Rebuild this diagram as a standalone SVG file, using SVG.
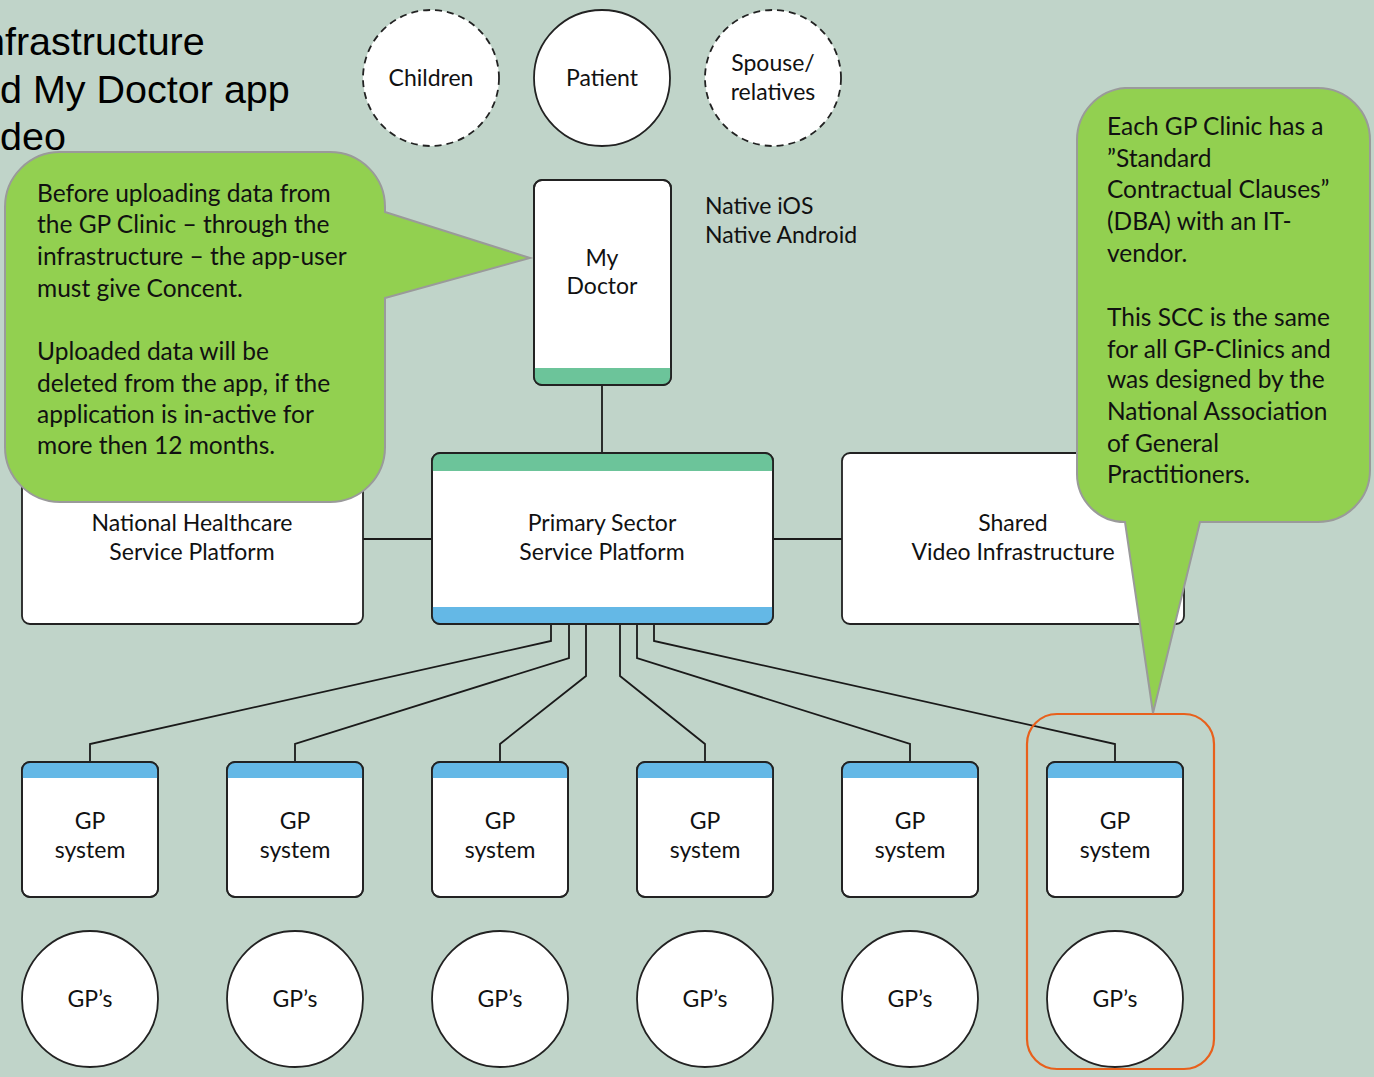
<svg xmlns="http://www.w3.org/2000/svg" width="1374" height="1077" viewBox="0 0 1374 1077">
<defs>
<style>
.bg{fill:#c0d4c9}
.title{font-family:"Liberation Sans",Arial,sans-serif;font-size:39.5px;fill:#000}
.lbl{font-family:Lato,"Open Sans",sans-serif;font-size:23px;fill:#111;text-anchor:middle}
.note{font-family:Lato,"Open Sans",sans-serif;font-size:23px;fill:#111}
.co{font-family:Lato,"Open Sans",sans-serif;font-size:24.5px;fill:#111}
.box{fill:#fff;stroke:#222;stroke-width:1.8}
.circ{fill:#fff;stroke:#222;stroke-width:1.8}
.dash{stroke-dasharray:7 5}
.green{fill:#6cc49a}
.blue{fill:#64b8e6}
.wire{fill:none;stroke:#1a1a1a;stroke-width:1.8}
.callout{fill:#92d050;stroke:#9a9a9a;stroke-width:2}
</style>
<clipPath id="cMy"><rect x="534" y="180" width="137" height="205" rx="8"/></clipPath>
<clipPath id="cPr"><rect x="432" y="453" width="341" height="171" rx="8"/></clipPath>
</defs>
<rect class="bg" x="0" y="0" width="1374" height="1077"/>

<g id="title">
<text class="title" x="-17" y="55">nfrastructure</text>
<text class="title" x="0" y="103">d My Doctor app</text>
<text class="title" x="0" y="150">deo</text>
</g>

<g id="connectors">
<line class="wire" x1="602" y1="385" x2="602" y2="453"/>
<line class="wire" x1="363" y1="539" x2="432" y2="539"/>
<line class="wire" x1="773" y1="539" x2="842" y2="539"/>
<polyline class="wire" points="551,624 551,641 90,744 90,762"/>
<polyline class="wire" points="569,624 569,658 295,744 295,762"/>
<polyline class="wire" points="586,624 586,676 500,744 500,762"/>
<polyline class="wire" points="620,624 620,676 705,744 705,762"/>
<polyline class="wire" points="637,624 637,658 910,744 910,762"/>
<polyline class="wire" points="654,624 654,641 1115,744 1115,762"/>
</g>

<g id="children">
<circle class="circ dash" cx="431" cy="78" r="68"/>
<text class="lbl" x="431" y="86">Children</text>
</g>
<g id="patient">
<circle class="circ" cx="602" cy="78" r="68"/>
<text class="lbl" x="602" y="86">Patient</text>
</g>
<g id="spouse">
<circle class="circ dash" cx="773" cy="78" r="68"/>
<text class="lbl" x="773" y="71">Spouse/</text>
<text class="lbl" x="773" y="100">relatives</text>
</g>

<g id="mydoctor">
<rect class="box" x="534" y="180" width="137" height="205" rx="8"/>
<rect class="green" x="534" y="368" width="137" height="17" clip-path="url(#cMy)"/>
<rect x="534" y="180" width="137" height="205" rx="8" fill="none" stroke="#222" stroke-width="1.8"/>
<text class="lbl" x="602" y="266">My</text>
<text class="lbl" x="602" y="294">Doctor</text>
</g>
<g id="platforms-note">
<text class="note" x="705" y="214">Native iOS</text>
<text class="note" x="705" y="243">Native Android</text>
</g>

<g id="national">
<rect class="box" x="22" y="453" width="341" height="171" rx="8"/>
<text class="lbl" x="192" y="531">National Healthcare</text>
<text class="lbl" x="192" y="560">Service Platform</text>
</g>
<g id="primary">
<rect class="box" x="432" y="453" width="341" height="171" rx="8"/>
<g clip-path="url(#cPr)">
<rect class="green" x="432" y="453" width="341" height="18"/>
<rect class="blue" x="432" y="607" width="341" height="17"/>
</g>
<rect x="432" y="453" width="341" height="171" rx="8" fill="none" stroke="#222" stroke-width="1.8"/>
<text class="lbl" x="602" y="531">Primary Sector</text>
<text class="lbl" x="602" y="560">Service Platform</text>
</g>
<g id="shared">
<rect class="box" x="842" y="453" width="342" height="171" rx="8"/>
<text class="lbl" x="1013" y="531">Shared</text>
<text class="lbl" x="1013" y="560">Video Infrastructure</text>
</g>

<g id="gpsys1">
<rect class="box" x="22" y="762" width="136" height="135" rx="8"/>
<path class="blue" d="M30,762 H150 A8 8 0 0 1 158,770 V778 H22 V770 A8 8 0 0 1 30,762 Z"/>
<rect x="22" y="762" width="136" height="135" rx="8" fill="none" stroke="#222" stroke-width="1.8"/>
<text class="lbl" x="90" y="829">GP</text>
<text class="lbl" x="90" y="858">system</text>
</g>
<g id="gpsys2">
<rect class="box" x="227" y="762" width="136" height="135" rx="8"/>
<path class="blue" d="M235,762 H355 A8 8 0 0 1 363,770 V778 H227 V770 A8 8 0 0 1 235,762 Z"/>
<rect x="227" y="762" width="136" height="135" rx="8" fill="none" stroke="#222" stroke-width="1.8"/>
<text class="lbl" x="295" y="829">GP</text>
<text class="lbl" x="295" y="858">system</text>
</g>
<g id="gpsys3">
<rect class="box" x="432" y="762" width="136" height="135" rx="8"/>
<path class="blue" d="M440,762 H560 A8 8 0 0 1 568,770 V778 H432 V770 A8 8 0 0 1 440,762 Z"/>
<rect x="432" y="762" width="136" height="135" rx="8" fill="none" stroke="#222" stroke-width="1.8"/>
<text class="lbl" x="500" y="829">GP</text>
<text class="lbl" x="500" y="858">system</text>
</g>
<g id="gpsys4">
<rect class="box" x="637" y="762" width="136" height="135" rx="8"/>
<path class="blue" d="M645,762 H765 A8 8 0 0 1 773,770 V778 H637 V770 A8 8 0 0 1 645,762 Z"/>
<rect x="637" y="762" width="136" height="135" rx="8" fill="none" stroke="#222" stroke-width="1.8"/>
<text class="lbl" x="705" y="829">GP</text>
<text class="lbl" x="705" y="858">system</text>
</g>
<g id="gpsys5">
<rect class="box" x="842" y="762" width="136" height="135" rx="8"/>
<path class="blue" d="M850,762 H970 A8 8 0 0 1 978,770 V778 H842 V770 A8 8 0 0 1 850,762 Z"/>
<rect x="842" y="762" width="136" height="135" rx="8" fill="none" stroke="#222" stroke-width="1.8"/>
<text class="lbl" x="910" y="829">GP</text>
<text class="lbl" x="910" y="858">system</text>
</g>
<g id="gpsys6">
<rect class="box" x="1047" y="762" width="136" height="135" rx="8"/>
<path class="blue" d="M1055,762 H1175 A8 8 0 0 1 1183,770 V778 H1047 V770 A8 8 0 0 1 1055,762 Z"/>
<rect x="1047" y="762" width="136" height="135" rx="8" fill="none" stroke="#222" stroke-width="1.8"/>
<text class="lbl" x="1115" y="829">GP</text>
<text class="lbl" x="1115" y="858">system</text>
</g>

<g id="gps1"><circle class="circ" cx="90" cy="999" r="68"/><text class="lbl" x="90" y="1007">GP’s</text></g>
<g id="gps2"><circle class="circ" cx="295" cy="999" r="68"/><text class="lbl" x="295" y="1007">GP’s</text></g>
<g id="gps3"><circle class="circ" cx="500" cy="999" r="68"/><text class="lbl" x="500" y="1007">GP’s</text></g>
<g id="gps4"><circle class="circ" cx="705" cy="999" r="68"/><text class="lbl" x="705" y="1007">GP’s</text></g>
<g id="gps5"><circle class="circ" cx="910" cy="999" r="68"/><text class="lbl" x="910" y="1007">GP’s</text></g>
<g id="gps6"><circle class="circ" cx="1115" cy="999" r="68"/><text class="lbl" x="1115" y="1007">GP’s</text></g>

<g id="highlight">
<rect x="1027" y="714" width="187" height="355" rx="30" fill="none" stroke="#e8601c" stroke-width="2.2"/>
</g>

<g id="callout-left">
<path class="callout" d="M60,152 H330 A55 55 0 0 1 385,207 V212 L530,258 L385,298 V447 A55 55 0 0 1 330,502 H60 A55 55 0 0 1 5,447 V207 A55 55 0 0 1 60,152 Z"/>
<text class="co" x="37" y="202">Before uploading data from</text>
<text class="co" x="37" y="233">the GP Clinic – through the</text>
<text class="co" x="37" y="265">infrastructure – the app-user</text>
<text class="co" x="37" y="297">must give Concent.</text>
<text class="co" x="37" y="360">Uploaded data will be</text>
<text class="co" x="37" y="392">deleted from the app, if the</text>
<text class="co" x="37" y="423">application is in-active for</text>
<text class="co" x="37" y="454">more then 12 months.</text>
</g>

<g id="callout-right">
<path class="callout" d="M1125,88 H1318 A52 52 0 0 1 1370,140 V470 A52 52 0 0 1 1318,522 H1200 L1153,713 L1125,522 A48 48 0 0 1 1077,474 V140 A52 52 0 0 1 1125,88 Z"/>
<text class="co" x="1107" y="135">Each GP Clinic has a</text>
<text class="co" x="1107" y="167">”Standard</text>
<text class="co" x="1107" y="198">Contractual Clauses”</text>
<text class="co" x="1107" y="230">(DBA) with an IT-</text>
<text class="co" x="1107" y="262">vendor.</text>
<text class="co" x="1107" y="326">This SCC is the same</text>
<text class="co" x="1107" y="358">for all GP-Clinics and</text>
<text class="co" x="1107" y="388">was designed by the</text>
<text class="co" x="1107" y="420">National Association</text>
<text class="co" x="1107" y="452">of General</text>
<text class="co" x="1107" y="483">Practitioners.</text>
</g>
</svg>
